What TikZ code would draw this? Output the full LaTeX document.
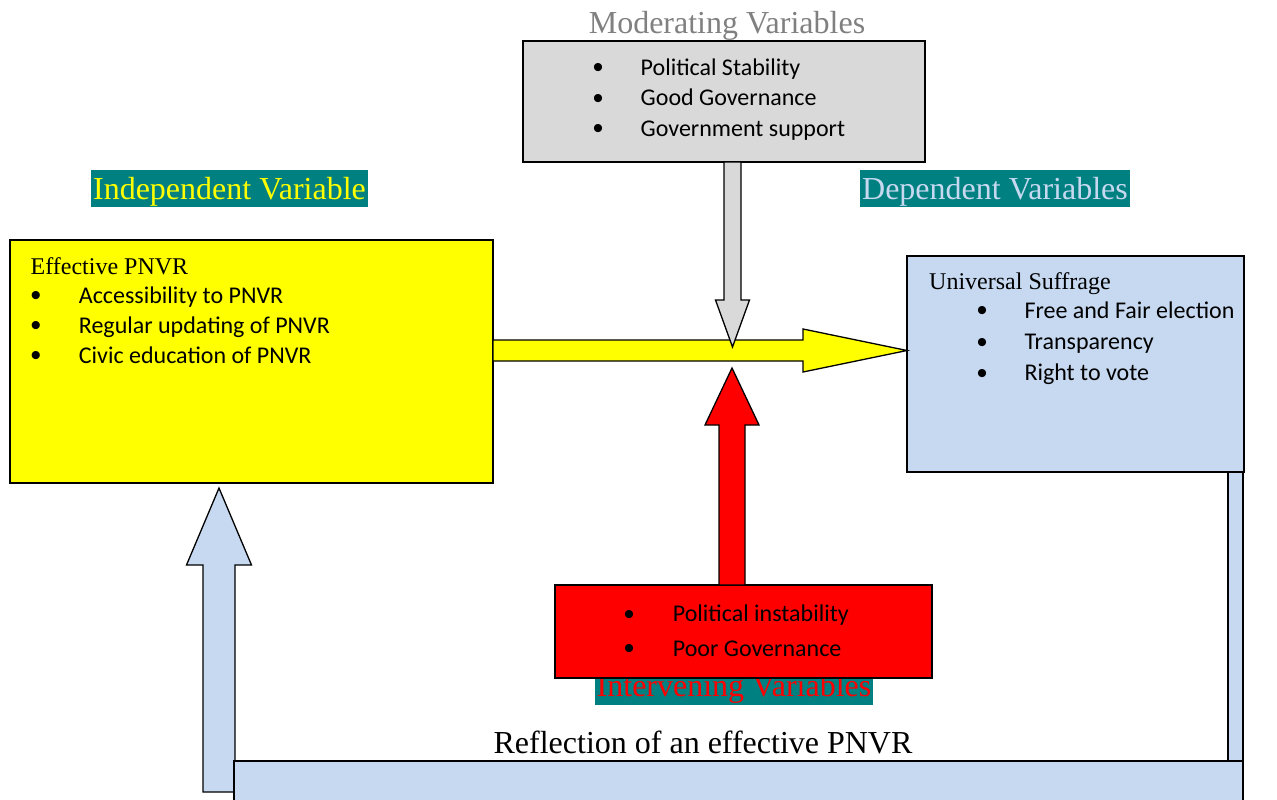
\documentclass[tikz,border=0pt]{standalone}
\usepackage{fontspec}
\setmainfont{Liberation Serif}
\newfontfamily\calibrifont{Carlito}
\newfontfamily\bulletfont{Liberation Sans}
\usetikzlibrary{calc}
\definecolor{ltblue}{HTML}{C6D9F1}
\definecolor{boxgray}{HTML}{D9D9D9}
\definecolor{tealbg}{HTML}{008080}
\definecolor{headgray}{HTML}{808080}
\definecolor{pureyellow}{HTML}{FFFF00}
\definecolor{purered}{HTML}{FF0000}
\tikzset{
  box/.style={draw=black, line width=1.4pt, inner sep=0pt, outer sep=0pt},
  blockarrow/.style={draw=black, line width=1.3pt, line join=miter},
  item/.style={anchor=base west, inner sep=0pt, font=\calibrifont\fontsize{24}{28}\selectfont},
  bul/.style={anchor=base, inner sep=0pt, yshift=-2.5pt, font=\bulletfont\fontsize{30}{34}\selectfont},
  serifitem/.style={anchor=base west, inner sep=0pt, font=\fontsize{24}{28}\selectfont},
  head/.style={anchor=base, inner sep=0pt, font=\fontsize{32}{38}\selectfont},
  headbg/.style={fill=tealbg, inner sep=0pt, outer sep=0pt}
}
\begin{document}
\begin{tikzpicture}[x=1pt,y=-1pt]
\useasboundingbox (0,0) rectangle (1277,800);

% ---------- Moderating ----------
\node[head, text=headgray] (modt) at (727,33.5) {Moderating Variables};
\node[box, fill=boxgray, minimum width=402pt, minimum height=121pt] (mod) at (724,101.5) {};
\node[bul] (modb1) at (598,75) {•};
\node[item] (mod1) at (640.5,75) {Political Stability};
\node[bul] (modb2) at (598,105.5) {•};
\node[item] (mod2) at (640.5,105.5) {Good Governance};
\node[bul] (modb3) at (598,136) {•};
\node[item] (mod3) at (640.5,136) {Government support};

% ---------- Independent ----------
\node[headbg, minimum width=277pt, minimum height=37pt] (indbg) at (229.5,188.5) {};
\node[head, text=pureyellow] (indt) at (229.5,199.3) {Independent Variable};
\node[box, fill=pureyellow, minimum width=483pt, minimum height=243pt] (ind) at (251.5,361.5) {};
\node[serifitem] (indh) at (30.5,274) {Effective PNVR};
\node[bul] (indb1) at (36,303.3) {•};
\node[item] (ind1) at (78.7,303.3) {Accessibility to PNVR};
\node[bul] (indb2) at (36,333.3) {•};
\node[item] (ind2) at (78.7,333.3) {Regular updating of PNVR};
\node[bul] (indb3) at (36,363.3) {•};
\node[item] (ind3) at (78.7,363.3) {Civic education of PNVR};

% ---------- Dependent ----------
\node[headbg, minimum width=270pt, minimum height=37pt] (depbg) at (995,188.5) {};
\node[head, text=ltblue] (dept) at (995,199.3) {Dependent Variables};
\node[box, fill=ltblue, minimum width=337pt, minimum height=216pt] (dep) at (1075.5,364) {};
\node[serifitem] (deph) at (929,289) {Universal Suffrage};
\node[bul] (depb1) at (982,318.3) {•};
\node[item] (dep1) at (1024.3,318.3) {Free and Fair election};
\node[bul] (depb2) at (982,349.5) {•};
\node[item] (dep2) at (1024.3,349.5) {Transparency};
\node[bul] (depb3) at (982,380.7) {•};
\node[item] (dep3) at (1024.3,380.7) {Right to vote};

% ---------- Yellow arrow (independent -> dependent) ----------
\coordinate (yS) at (ind.east |- 0,350.5);
\coordinate (yT) at (dep.west |- 0,350.5);
\draw[blockarrow, fill=pureyellow]
  ($(yS)+(0,-10.5)$) -- ($(yT)+(-104,-10.5)$) -- ($(yT)+(-104,-21.5)$) -- (yT)
  -- ($(yT)+(-104,21.5)$) -- ($(yT)+(-104,10.5)$) -- ($(yS)+(0,10.5)$) -- cycle;

% ---------- Gray arrow (moderating -> main arrow) ----------
\coordinate (gS) at ($(mod.south)+(8.5,0)$);
\coordinate (gT) at (gS |- 0,347);
\draw[blockarrow, fill=boxgray]
  ($(gS)+(-8.5,0)$) -- ($(gT)+(-8.5,-47)$) -- ($(gT)+(-17,-47)$) -- (gT)
  -- ($(gT)+(17,-47)$) -- ($(gT)+(8.5,-47)$) -- ($(gS)+(8.5,0)$) -- cycle;

% ---------- Intervening ----------
\node[headbg, minimum width=278pt, minimum height=37pt] (intbg) at (734,686.5) {};
\node[head, text=purered] (intt) at (734,696.5) {Intervening Variables};
\node[box, fill=purered, minimum width=377pt, minimum height=93pt] (int) at (743.5,631.5) {};
\node[bul] (intb1) at (629,621.7) {•};
\node[item] (int1) at (672.7,621.7) {Political instability};
\node[bul] (intb2) at (629,656) {•};
\node[item] (int2) at (672.7,656) {Poor Governance};

% ---------- Red arrow (intervening -> main arrow) ----------
\coordinate (rS) at ($(int.north)+(-11.5,0)$);
\coordinate (rT) at (rS |- 0,368);
\draw[blockarrow, fill=purered]
  ($(rS)+(-13,0)$) -- ($(rT)+(-13,57)$) -- ($(rT)+(-27,57)$) -- (rT)
  -- ($(rT)+(27,57)$) -- ($(rT)+(13,57)$) -- ($(rS)+(13,0)$) -- cycle;

% ---------- Feedback loop ----------
\node[box, fill=ltblue, minimum width=15pt, minimum height=289pt] (rbar) at (1235.5,616.5) {};
\coordinate (lS) at (219,792);
\coordinate (lT) at (ind.south -| lS);
\coordinate (lTip) at ($(lT)+(0,5)$);
\draw[blockarrow, fill=ltblue]
  ($(lS)+(-16,0)$) -- ($(lTip)+(-16,77)$) -- ($(lTip)+(-32.5,77)$) -- (lTip)
  -- ($(lTip)+(32.5,77)$) -- ($(lTip)+(16,77)$) -- ($(lS)+(16,0)$) -- cycle;
\node[box, fill=ltblue, minimum width=1009pt, minimum height=50pt] (bbar) at (738.5,786) {};
\node[head] (refl) at (703,753) {Reflection of an effective PNVR};

\end{tikzpicture}
\end{document}
